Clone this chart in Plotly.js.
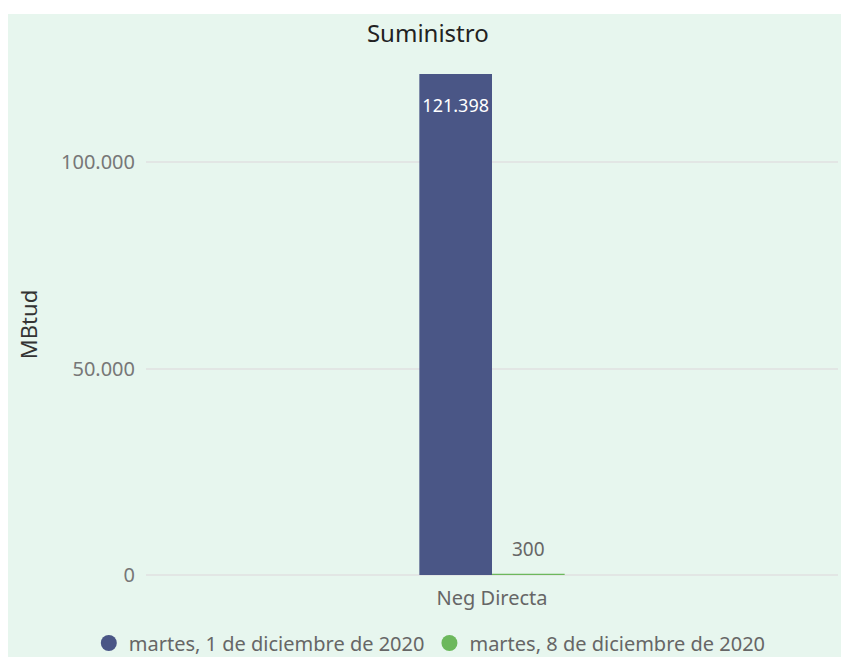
<!DOCTYPE html>
<html>
<head>
<meta charset="utf-8">
<script src="https://cdn.plot.ly/plotly-3.0.1.min.js"></script>
<style>
  html, body { margin: 0; padding: 0; background: #ffffff; width: 841px; height: 657px; overflow: hidden; }
  #chart { position: absolute; left: 8px; top: 14px; width: 833px; height: 643px; background: #e7f6ee; }
</style>
</head>
<body>
<div id="chart"></div>
<script>
const categories = ["Neg Directa"];
const seriesNames = ["martes, 1 de diciembre de 2020", "martes, 8 de diciembre de 2020"];
const series1 = [121398];
const series2 = [300];
const colors = ["#4a5686", "#6cb85c"];

const FONT = "Noto Sans, Open Sans, sans-serif";

const traces = [
  {
    type: "bar", x: categories, y: series1, name: seriesNames[0],
    marker: { color: colors[0] },
    text: series1,
    texttemplate: "<span style='font-size:11px'> </span><br>%{y:,}",
    textposition: "inside", insidetextanchor: "end",
    textfont: { color: "#ffffff", size: 18, family: FONT },
    constraintext: "none",
    cliponaxis: false, showlegend: false, hoverinfo: "y"
  },
  {
    type: "bar", x: categories, y: series2, name: seriesNames[1],
    marker: { color: colors[1] },
    textposition: "none",
    cliponaxis: false, showlegend: false, hoverinfo: "y"
  },
  {
    type: "scatter", mode: "markers", x: [null], y: [null], name: seriesNames[0],
    marker: { color: colors[0], size: 19, symbol: "circle" }, showlegend: true
  },
  {
    type: "scatter", mode: "markers", x: [null], y: [null], name: seriesNames[1],
    marker: { color: colors[1], size: 19, symbol: "circle" }, showlegend: true
  }
];

const fmt = v => v.toLocaleString("de-DE");

const layout = {
  width: 833, height: 643,
  paper_bgcolor: "#e7f6ee", plot_bgcolor: "#e7f6ee",
  separators: ",.",
  margin: { l: 138, r: 3, t: 60, b: 82 },
  font: { family: FONT, color: "#666666" },
  title: {
    text: "Suministro", font: { size: 24, color: "#222222", family: FONT },
    x: 0.504, xref: "container", xanchor: "center",
    y: 0.969, yref: "container", yanchor: "middle"
  },
  barmode: "group", bargap: 0.79, bargroupgap: 0,
  xaxis: {
    type: "category", showgrid: false, zeroline: false, showline: false, ticks: "",
    ticklabelstandoff: 9,
    tickfont: { size: 20, color: "#666666", family: FONT }
  },
  yaxis: {
    range: [0, 121398], tickvals: [0, 50000, 100000], tickformat: ",d",
    showgrid: true, gridcolor: "#e2e6e4", gridwidth: 2,
    zeroline: true, zerolinecolor: "#e2e6e4", zerolinewidth: 2,
    showline: false, ticks: "", ticklabelstandoff: 10,
    tickfont: { size: 20, color: "#777777", family: FONT },
    title: { text: "MBtud", font: { size: 22, color: "#333333", family: FONT }, standoff: 17 }
  },
  annotations: categories.map((c, i) => ({
    x: c, y: series2[i], xref: "x", yref: "y",
    xshift: 36, yshift: 25, yanchor: "middle", xanchor: "center",
    text: fmt(series2[i]), showarrow: false,
    font: { size: 19, color: "#666666", family: FONT }
  })),
  legend: {
    orientation: "h", x: 0.097, xref: "container", xanchor: "left",
    y: 0.0218, yref: "container", yanchor: "middle",
    font: { size: 20, color: "#666666", family: FONT },
    bgcolor: "rgba(0,0,0,0)"
  },
  showlegend: true
};

Plotly.newPlot("chart", traces, layout, { displayModeBar: false, staticPlot: true });
</script>
</body>
</html>
